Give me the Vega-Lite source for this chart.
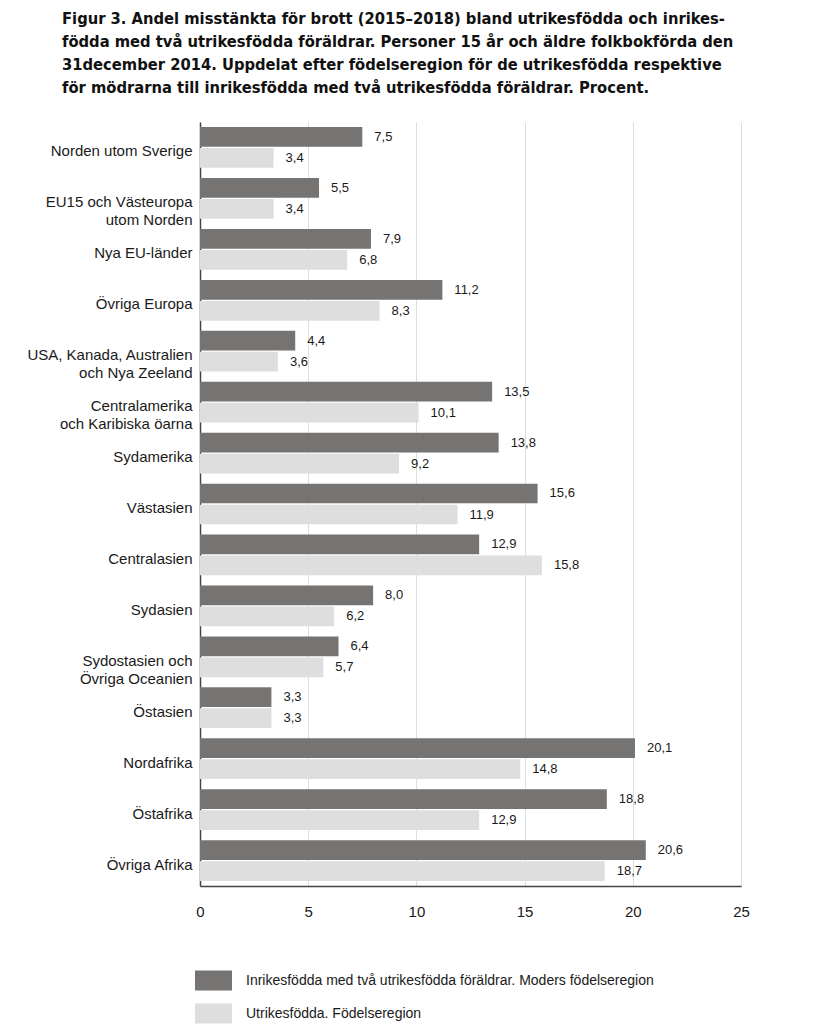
{
  "$schema": "https://vega.github.io/schema/vega-lite/v6.json",
  "autosize": "none",
  "width": 541,
  "height": 764,
  "padding": {"left": 200, "top": 122, "right": 93, "bottom": 138},
  "background": "white",
  "config": {
    "locale": {"number": {"decimal": ",", "thousands": " ", "grouping": [3], "currency": ["", " kr"]}},
    "view": {"stroke": null},
    "font": "Liberation Sans"
  },
  "title": {
    "text": [
      "Figur 3. Andel misstänkta för brott (2015–2018) bland utrikesfödda och inrikes-",
      "födda med två utrikesfödda föräldrar. Personer 15 år och äldre folkbokförda den",
      "31december 2014. Uppdelat efter födelseregion för de utrikesfödda respektive",
      "för mödrarna till inrikesfödda med två utrikesfödda föräldrar. Procent."
    ],
    "anchor": "start",
    "frame": "group",
    "dx": -138,
    "offset": 26,
    "font": "Liberation Sans Narrow, DejaVu Sans Condensed, Liberation Sans",
    "fontSize": 16.4,
    "fontWeight": "bold",
    "lineHeight": 23,
    "color": "#111111"
  },
  "data": {
    "values": [
      {"region": "Norden utom Sverige", "serie": "Inrikesfödda med två utrikesfödda föräldrar. Moders födelseregion", "value": 7.5},
      {"region": "Norden utom Sverige", "serie": "Utrikesfödda. Födelseregion", "value": 3.4},
      {"region": "EU15 och Västeuropa|utom Norden", "serie": "Inrikesfödda med två utrikesfödda föräldrar. Moders födelseregion", "value": 5.5},
      {"region": "EU15 och Västeuropa|utom Norden", "serie": "Utrikesfödda. Födelseregion", "value": 3.4},
      {"region": "Nya EU-länder", "serie": "Inrikesfödda med två utrikesfödda föräldrar. Moders födelseregion", "value": 7.9},
      {"region": "Nya EU-länder", "serie": "Utrikesfödda. Födelseregion", "value": 6.8},
      {"region": "Övriga Europa", "serie": "Inrikesfödda med två utrikesfödda föräldrar. Moders födelseregion", "value": 11.2},
      {"region": "Övriga Europa", "serie": "Utrikesfödda. Födelseregion", "value": 8.3},
      {"region": "USA, Kanada, Australien|och Nya Zeeland", "serie": "Inrikesfödda med två utrikesfödda föräldrar. Moders födelseregion", "value": 4.4},
      {"region": "USA, Kanada, Australien|och Nya Zeeland", "serie": "Utrikesfödda. Födelseregion", "value": 3.6},
      {"region": "Centralamerika|och Karibiska öarna", "serie": "Inrikesfödda med två utrikesfödda föräldrar. Moders födelseregion", "value": 13.5},
      {"region": "Centralamerika|och Karibiska öarna", "serie": "Utrikesfödda. Födelseregion", "value": 10.1},
      {"region": "Sydamerika", "serie": "Inrikesfödda med två utrikesfödda föräldrar. Moders födelseregion", "value": 13.8},
      {"region": "Sydamerika", "serie": "Utrikesfödda. Födelseregion", "value": 9.2},
      {"region": "Västasien", "serie": "Inrikesfödda med två utrikesfödda föräldrar. Moders födelseregion", "value": 15.6},
      {"region": "Västasien", "serie": "Utrikesfödda. Födelseregion", "value": 11.9},
      {"region": "Centralasien", "serie": "Inrikesfödda med två utrikesfödda föräldrar. Moders födelseregion", "value": 12.9},
      {"region": "Centralasien", "serie": "Utrikesfödda. Födelseregion", "value": 15.8},
      {"region": "Sydasien", "serie": "Inrikesfödda med två utrikesfödda föräldrar. Moders födelseregion", "value": 8.0},
      {"region": "Sydasien", "serie": "Utrikesfödda. Födelseregion", "value": 6.2},
      {"region": "Sydostasien och|Övriga Oceanien", "serie": "Inrikesfödda med två utrikesfödda föräldrar. Moders födelseregion", "value": 6.4},
      {"region": "Sydostasien och|Övriga Oceanien", "serie": "Utrikesfödda. Födelseregion", "value": 5.7},
      {"region": "Östasien", "serie": "Inrikesfödda med två utrikesfödda föräldrar. Moders födelseregion", "value": 3.3},
      {"region": "Östasien", "serie": "Utrikesfödda. Födelseregion", "value": 3.3},
      {"region": "Nordafrika", "serie": "Inrikesfödda med två utrikesfödda föräldrar. Moders födelseregion", "value": 20.1},
      {"region": "Nordafrika", "serie": "Utrikesfödda. Födelseregion", "value": 14.8},
      {"region": "Östafrika", "serie": "Inrikesfödda med två utrikesfödda föräldrar. Moders födelseregion", "value": 18.8},
      {"region": "Östafrika", "serie": "Utrikesfödda. Födelseregion", "value": 12.9},
      {"region": "Övriga Afrika", "serie": "Inrikesfödda med två utrikesfödda föräldrar. Moders födelseregion", "value": 20.6},
      {"region": "Övriga Afrika", "serie": "Utrikesfödda. Födelseregion", "value": 18.7}
    ]
  },
  "encoding": {
    "y": {
      "field": "region",
      "type": "nominal",
      "sort": null,
      "scale": {"paddingInner": 0.2, "paddingOuter": 0.1},
      "axis": {
        "title": null,
        "labelExpr": "split(datum.label, '|')",
        "labelFontSize": 15,
        "labelColor": "#1a1a1a",
        "labelLineHeight": 18,
        "labelPadding": 8,
        "labelOffset": 4,
        "ticks": false,
        "domainColor": "#444444",
        "domainWidth": 1.5,
        "labelLimit": 300
      }
    },
    "yOffset": {
      "field": "serie",
      "type": "nominal",
      "sort": null,
      "scale": {"paddingInner": 0.06}
    }
  },
  "layer": [
    {
      "mark": {"type": "bar"},
      "encoding": {
        "x": {
          "field": "value",
          "type": "quantitative",
          "scale": {"domain": [0, 25], "nice": false},
          "axis": {
            "title": null,
            "values": [0, 5, 10, 15, 20, 25],
            "format": "d",
            "labelFontSize": 15,
            "labelColor": "#1a1a1a",
            "labelPadding": 18,
            "labelFlush": false,
            "ticks": false,
            "grid": true,
            "gridColor": "#dedede",
            "gridWidth": 1,
            "domainColor": "#444444",
            "domainWidth": 1.5
          }
        },
        "color": {
          "field": "serie",
          "type": "nominal",
          "sort": null,
          "scale": {"range": ["#767472", "#dedede"]},
          "legend": {
            "title": null,
            "orient": "none",
            "legendX": -5,
            "legendY": 840,
            "direction": "vertical",
            "symbolType": "M-1,-0.54H1V0.54H-1Z",
            "symbolSize": 1369,
            "symbolStrokeWidth": 0,
            "labelFontSize": 14,
            "labelColor": "#1a1a1a",
            "labelOffset": 14,
            "rowPadding": 4,
            "labelLimit": 600
          }
        }
      }
    },
    {
      "mark": {"type": "text", "align": "left", "dx": 12, "fontSize": 13, "color": "#1a1a1a"},
      "encoding": {
        "x": {"field": "value", "type": "quantitative"},
        "text": {"field": "value", "type": "quantitative", "format": ".1f"}
      }
    }
  ]
}
